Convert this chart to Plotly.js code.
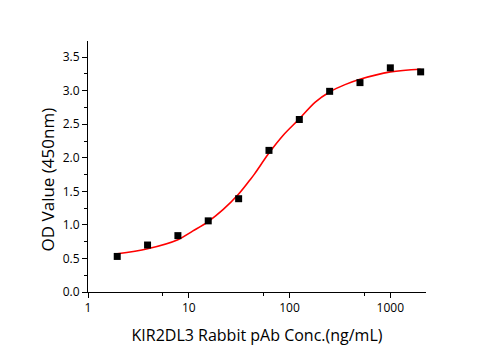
<!DOCTYPE html>
<html>
<head>
<meta charset="utf-8">
<script src="https://cdn.plot.ly/plotly-3.0.1.min.js"></script>
<style>html,body{margin:0;padding:0;background:#fff;}#chart{width:495px;height:350px;}</style>
</head>
<body>
<div id="chart"></div>
<script>
// Measured points
const concentrations = [1.95, 3.9, 7.8, 15.6, 31.25, 62.5, 125, 250, 500, 1000, 2000];
const odValues = [0.53, 0.70, 0.84, 1.06, 1.39, 2.11, 2.57, 2.99, 3.12, 3.34, 3.28];
// Fitted curve
const curveX = [1.95, 3.9, 7.8, 11, 15.6, 22, 31.25, 40, 45, 62.5, 87, 125, 180, 250, 355, 500, 1000, 2000];
const curveY = [0.57, 0.645, 0.78, 0.91, 1.05, 1.23, 1.46, 1.66, 1.76, 2.07, 2.34, 2.58, 2.83, 2.98, 3.09, 3.17, 3.28, 3.32];
// Axis ticks
const xTickVals = [1, 10, 100, 1000];
const xTickText = ["1", "10", "100", "1000"];
const yTickVals = [0, 0.5, 1.0, 1.5, 2.0, 2.5, 3.0, 3.5];
const yTickText = ["0.0", "0.5", "1.0", "1.5", "2.0", "2.5", "3.0", "3.5"];
const yTitle = 'OD Value (450nm)';
const xTitle = 'KIR2DL3 Rabbit pAb Conc.(ng/mL)';

const font = "'Open Sans', 'Noto Sans', sans-serif";

const traces = [
  {x: curveX, y: curveY, type: 'scatter', mode: 'lines',
   line: {color: '#ff0000', width: 1.6, shape: 'spline', smoothing: 1}, hoverinfo: 'skip'},
  {x: concentrations, y: odValues, type: 'scatter', mode: 'markers',
   marker: {symbol: 'square', color: '#000', size: 7}}
];

const layout = {
  width: 495, height: 350,
  margin: {l: 88, r: 69, t: 41, b: 58},
  paper_bgcolor: '#fff', plot_bgcolor: '#fff',
  showlegend: false,
  font: {family: font, color: '#000'},
  xaxis: {
    type: 'log', range: [0, 3.354],
    showgrid: false, zeroline: false,
    showline: true, linecolor: '#000', linewidth: 1,
    ticks: 'outside', ticklen: 5, tickwidth: 1, tickcolor: '#000',
    tickmode: 'array', tickvals: xTickVals, ticktext: xTickText,
    tickfont: {size: 12, family: font},
    minor: {tickmode: 'array', tickvals: [5.5, 55, 550], ticks: 'outside', ticklen: 3, tickcolor: '#000', showgrid: false},
    title: {text: xTitle, font: {size: 16, family: font}, standoff: 14}
  },
  yaxis: {
    range: [0, 3.74],
    showgrid: false, zeroline: false,
    showline: true, linecolor: '#000', linewidth: 1,
    ticks: 'outside', ticklen: 5, tickwidth: 1, tickcolor: '#000',
    tickmode: 'array', tickvals: yTickVals, ticktext: yTickText,
    tickfont: {size: 12, family: font},
    minor: {dtick: 0.25, ticks: 'outside', ticklen: 3, tickcolor: '#000', showgrid: false}
  },
  annotations: [{
    text: yTitle, textangle: -90, showarrow: false,
    xref: 'paper', yref: 'paper', x: -0.121, y: 0.449,
    xanchor: 'center', yanchor: 'middle',
    font: {size: 17, family: font, color: '#000'}
  }]
};

Plotly.newPlot('chart', traces, layout, {displayModeBar: false, staticPlot: true});
</script>
</body>
</html>
